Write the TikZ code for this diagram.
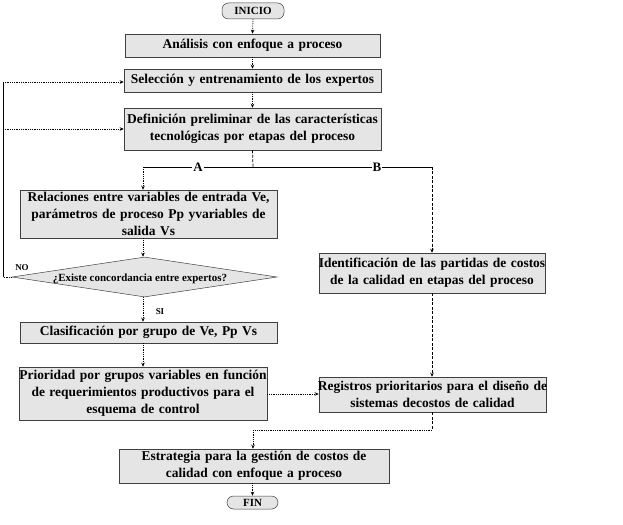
\documentclass[tikz,border=0pt]{standalone}
\usepackage{fontspec}
\setmainfont{Liberation Serif}
\usetikzlibrary{arrows.meta,shapes.geometric,shadows}
\newcommand\myln[1]{\makebox[\linewidth][c]{#1}}
\begin{document}
\begin{tikzpicture}[x=1bp,y=-1bp,
  box/.style={draw=black!75, line width=0.5bp, fill=black!10, inner sep=0pt, align=center,
    font=\fontsize{13.5}{17}\selectfont\bfseries,
    drop shadow={shadow xshift=1.2bp, shadow yshift=-1.2bp, fill=black!70, opacity=1}},
  term/.style={draw=black!75, line width=0.5bp, fill=black!10, rounded corners=6.5bp, inner sep=0pt,
    font=\fontsize{11}{12}\selectfont\bfseries},
  decision/.style={diamond, draw=black!75, line width=0.5bp, fill=black!10, inner sep=0pt},
  dtext/.style={font=\fontsize{11}{12}\selectfont\bfseries, inner sep=0pt},
  tip/.style={-{Stealth[length=4bp,width=3.5bp]}},
  dot/.style={densely dotted, line width=0.8bp},
  dsh/.style={dashed, dash pattern=on 3bp off 1.5bp, line width=0.7bp},
  solid line/.style={line width=0.6bp},
  lbl/.style={font=\fontsize{13}{14}\selectfont\bfseries, fill=white, inner sep=1pt},
  small lbl/.style={font=\fontsize{9}{10}\selectfont\bfseries, inner sep=0pt}]
\useasboundingbox (0,0) rectangle (623,525);

\node[term, minimum width=62bp, minimum height=16bp] (inicio) at (253,11) {INICIO};
\node[box, minimum width=255bp, minimum height=23bp, text width=255bp] (ana) at (252.5,45.5) {\myln{Análisis con enfoque a proceso}};
\node[box, minimum width=257bp, minimum height=23bp, text width=257bp] (sel) at (252.5,80.5) {\myln{Selección y entrenamiento de los expertos}};
\node[box, minimum width=257bp, minimum height=42bp, text width=257bp] (def) at (252.5,129) {\myln{Definición preliminar de las características}\\\myln{tecnológicas por etapas del proceso}};
\node[box, minimum width=257bp, minimum height=48bp, text width=257bp] (rel) at (148.5,214) {\myln{Relaciones entre variables de entrada Ve,}\\\myln{parámetros de proceso Pp yvariables de}\\\myln{salida Vs}};
\node[decision, minimum width=265bp, minimum height=40bp] (dia) at (144.5,277) {};
\node[dtext] (diat) at (140,279) {¿Existe concordancia entre expertos?};
\node[box, minimum width=257bp, minimum height=21bp, text width=257bp] (cla) at (148.5,332.5) {\myln{Clasificación por grupo de Ve, Pp Vs}};
\node[box, minimum width=248bp, minimum height=53bp, text width=248bp] (pri) at (143,393.5) {\myln{Prioridad por grupos variables en función}\\\myln{de requerimientos productivos para el}\\\myln{esquema de control}};
\node[box, minimum width=226bp, minimum height=40bp, text width=226bp] (ide) at (432,273) {\myln{Identificación de las partidas de costos}\\\myln{de la calidad en etapas del proceso}};
\node[box, minimum width=227bp, minimum height=35bp, text width=227bp] (reg) at (432.5,394.5) {\myln{Registros prioritarios para el diseño de}\\\myln{sistemas decostos de calidad}};
\node[box, minimum width=270bp, minimum height=34bp, text width=270bp] (est) at (254,466) {\myln{Estrategia para la gestión de costos de}\\\myln{calidad con enfoque a proceso}};
\node[term, minimum width=51bp, minimum height=13bp] (fin) at (252.5,502.5) {FIN};

\coordinate (split) at (253,167);
\coordinate (ca) at (143,167);
\coordinate (cb) at (432,167);
\coordinate (l1) at (3,277);
\coordinate (l2) at (3,82);
\coordinate (l3) at (3,129);
\coordinate (m1) at (432,430);
\coordinate (m2) at (253,430);

\draw[dot, tip] (inicio.south) -- (ana.north);
\draw[dot, tip] (ana.south) -- (sel.north);
\draw[dot, tip] (sel.south) -- (def.north);
\draw[dsh] (def.south) -- (split);
\draw[solid line] (ca) -- (cb);
\node[lbl] (la) at (198,167) {A};
\node[lbl] (lb) at (377,167) {B};
\draw[dot, tip] (ca) -- (ca |- rel.north);
\draw[dot, tip] (ca |- rel.south) -- (ca |- dia.north);
\draw[dot, tip] (ca |- dia.south) -- (ca |- cla.north);
\node[small lbl] (si) at (160,312) {SI};
\draw[dot, tip] (ca |- cla.south) -- (ca |- pri.north);
\draw[dot] (dia.west) -- (l1);
\node[small lbl] (no) at (22,268) {NO};
\draw[solid line] (l1) -- (l2);
\draw[dot, tip] (l2) -- (l2 -| sel.west);
\draw[dot, tip] (l3) -- (l3 -| def.west);
\draw[dsh, tip] (cb) -- (ide.north);
\draw[dsh, tip] (ide.south) -- (reg.north -| ide.south);
\draw[dot, tip] (pri.east |- 0,394) -- (reg.west |- 0,394);
\draw[dsh] (reg.south -| m1) -- (m1);
\draw[dot] (m1) -- (m2);
\draw[dot, tip] (m2) -- (est.north -| m2);
\draw[dot, tip] (est.south -| fin.north) -- (fin.north);
\end{tikzpicture}
\end{document}
